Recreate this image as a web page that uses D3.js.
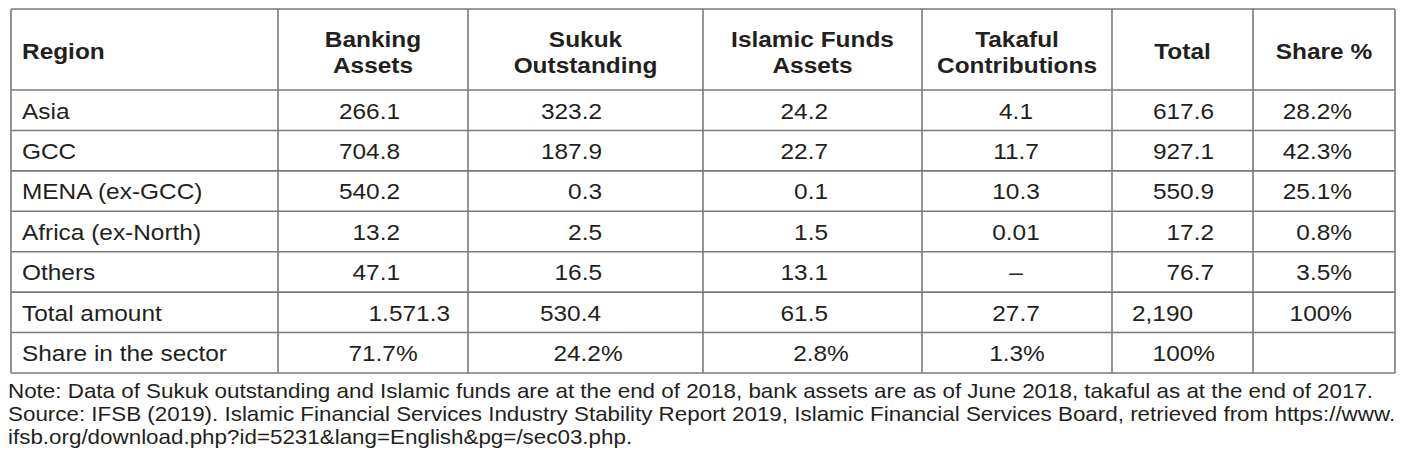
<!DOCTYPE html>
<html>
<head>
<meta charset="utf-8">
<script src="https://cdn.jsdelivr.net/npm/d3@7"></script>
<style>
  body { margin: 0; background: #fff; }
  svg text { font-family: "Liberation Sans", Arial, sans-serif; fill: #231f20; }
</style>
</head>
<body>
<svg id="chart" width="1415" height="472"></svg>
<script>
// table data
const headers = [["Region"], ["Banking", "Assets"], ["Sukuk", "Outstanding"], ["Islamic Funds", "Assets"], ["Takaful", "Contributions"], ["Total"], ["Share %"]];
const regions = ["Asia", "GCC", "MENA (ex-GCC)", "Africa (ex-North)", "Others"];
const banking = ["266.1", "704.8", "540.2", "13.2", "47.1"];
const sukuk = ["323.2", "187.9", "0.3", "2.5", "16.5"];
const funds = ["24.2", "22.7", "0.1", "1.5", "13.1"];
const takaful = ["4.1", "11.7", "10.3", "0.01", "–"];
const totals = ["617.6", "927.1", "550.9", "17.2", "76.7"];
const shares = ["28.2%", "42.3%", "25.1%", "0.8%", "3.5%"];
const totalAmount = ["Total amount", "1.571.3", "530.4", "61.5", "27.7", "2,190", "100%"];
const sectorShare = ["Share in the sector", "71.7%", "24.2%", "2.8%", "1.3%", "100%", ""];
const notes = [
  "Note: Data of Sukuk outstanding and Islamic funds are at the end of 2018, bank assets are as of June 2018, takaful as at the end of 2017.",
  "Source: IFSB (2019). Islamic Financial Services Industry Stability Report 2019, Islamic Financial Services Board, retrieved from https://www.",
  "ifsb.org/download.php?id=5231&lang=English&pg=/sec03.php."
];

// rows built from the arrays
const rows = regions.map((r, i) => [r, banking[i], sukuk[i], funds[i], takaful[i], totals[i], shares[i]]);
rows.push(totalAmount, sectorShare);
const rowKeys = rows.map(r => r[0]);

const svg = d3.select("#chart");
const stretch = 1.11;   // source text is a bit wider than Arial

// layout
const colEdges = [11, 278, 468, 703, 922, 1112, 1253, 1395];
const tableTop = 9, headBottom = 90, tableBottom = 373;

const y = d3.scaleBand().domain(rowKeys).range([headBottom, tableBottom]);

// where each cell's text sits: [anchor, x]
const bodyAlign = [["start", 22], ["end", 400], ["end", 602], ["end", 828], ["middle", 1016], ["end", 1214], ["end", 1352]];
const totalAlign = [["start", 22], ["end", 450], ["end", 601], ["end", 828], ["middle", 1016], ["start", 1132], ["end", 1352]];
const shareAlign = [["start", 22], ["middle", 383], ["middle", 588], ["middle", 821], ["middle", 1017], ["end", 1215], ["end", 1352]];

function alignFor(rowIdx) {
  if (rowIdx === rows.length - 2) return totalAlign;
  if (rowIdx === rows.length - 1) return shareAlign;
  return bodyAlign;
}

svg.append("rect").attr("width", 1415).attr("height", 472).attr("fill", "#fff");

// header text
const head = svg.append("g").attr("class", "header");
headers.forEach((lines, c) => {
  const cx = c === 0 ? 22 : (colEdges[c] + colEdges[c + 1]) / 2;
  const ys = lines.length === 1 ? [59] : [47, 73];
  lines.forEach((t, k) => {
    head.append("text")
      .attr("transform", `translate(${cx},${ys[k]}) scale(${stretch},1)`)
      .attr("text-anchor", c === 0 ? "start" : "middle")
      .attr("font-size", 22)
      .attr("font-weight", "bold")
      .text(t);
  });
});

// body text
const body = svg.append("g").attr("class", "body");
rows.forEach((row, r) => {
  const al = alignFor(r);
  row.forEach((val, c) => {
    if (val === "") return;
    body.append("text")
      .attr("transform", `translate(${al[c][1]},${y(row[0]) + 28.5}) scale(${stretch},1)`)
      .attr("text-anchor", al[c][0])
      .attr("font-size", 22)
      .text(val);
  });
});

// grid lines
const grid = svg.append("g").attr("stroke", "#7a7a7a").attr("stroke-width", 1.6).attr("fill", "none");
[tableTop, headBottom].concat(rowKeys.map(k => y(k) + y.bandwidth())).forEach(yy => {
  grid.append("line").attr("x1", colEdges[0]).attr("x2", colEdges[colEdges.length - 1]).attr("y1", yy).attr("y2", yy);
});
colEdges.forEach(xx => {
  grid.append("line").attr("x1", xx).attr("x2", xx).attr("y1", tableTop).attr("y2", tableBottom);
});

// notes under the table
notes.forEach((t, i) => {
  svg.append("text")
    .attr("transform", `translate(8,${398 + i * 23}) scale(1.12,1)`)
    .attr("font-size", 20)
    .text(t);
});
</script>
</body>
</html>
